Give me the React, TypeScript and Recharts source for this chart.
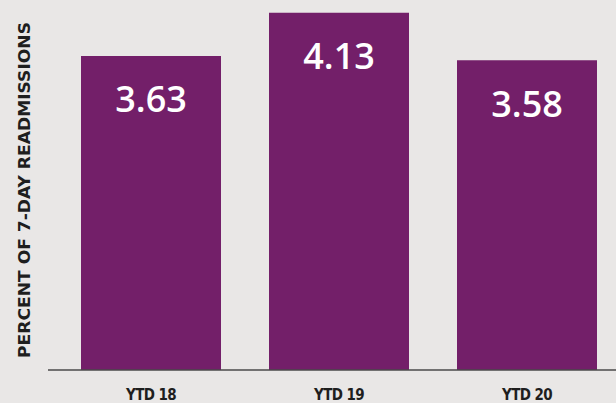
import React from "react";
import { BarChart, Bar, XAxis, YAxis, LabelList } from "recharts";

const categories = ["YTD 18", "YTD 19", "YTD 20"];
const values = [3.63, 4.13, 3.58];
const yAxisTitle = "PERCENT OF 7-DAY READMISSIONS";

const data = categories.map((c, i) => ({ name: c, value: values[i] }));

const PURPLE = "#731f69";
const BG = "#e9e7e6";

const XTick = (props: any) => {
  const { x, y, payload } = props;
  return (
    <text
      x={x}
      y={y + 22}
      textAnchor="middle"
      fontFamily="'DejaVu Sans Condensed', 'Liberation Sans Narrow', 'Liberation Sans', sans-serif"
      fontWeight="bold"
      fontSize={15}
      fill="#1e1e1e"
      letterSpacing={-0.6}
    >
      {payload.value}
    </text>
  );
};

const ValueLabel = (props: any) => {
  const { x, y, width, value } = props;
  return (
    <text
      x={x + width / 2}
      y={y + 43}
      textAnchor="middle"
      dominantBaseline="central"
      fontFamily="'Open Sans', 'Liberation Sans', sans-serif"
      fontWeight={600}
      fontSize={36}
      fill="#ffffff"
    >
      {value.toFixed(2)}
    </text>
  );
};

export default function App() {
  return (
    <div
      style={{
        position: "absolute",
        left: 0,
        top: 0,
        width: 616,
        height: 403,
        overflow: "hidden",
        background: BG,
      }}
    >
      <BarChart
        width={630}
        height={403}
        data={data}
        margin={{ top: 0, right: 9, bottom: 0, left: 48 }}
      >
        <XAxis
          dataKey="name"
          height={33}
          padding={{ left: 9, right: 0 }}
          axisLine={{ stroke: "#4a4a4a", strokeWidth: 1.5 }}
          tickLine={false}
          tick={<XTick />}
          interval={0}
        />
        <YAxis hide domain={[0, 4.277]} />
        <Bar dataKey="value" fill={PURPLE} barSize={140} isAnimationActive={false}>
          <LabelList dataKey="value" content={<ValueLabel />} />
        </Bar>
      </BarChart>
      <svg
        width={60}
        height={403}
        style={{ position: "absolute", left: 0, top: 0 }}
      >
        <text
          transform="translate(30,190) rotate(-90)"
          textAnchor="middle"
          fontFamily="'DejaVu Sans Condensed', 'Liberation Sans Narrow', 'Liberation Sans', sans-serif"
          fontWeight="bold"
          fontSize={15}
          fill="#1e1e1e"
          textLength={336}
          lengthAdjust="spacingAndGlyphs"
        >
          {yAxisTitle}
        </text>
      </svg>
    </div>
  );
}
